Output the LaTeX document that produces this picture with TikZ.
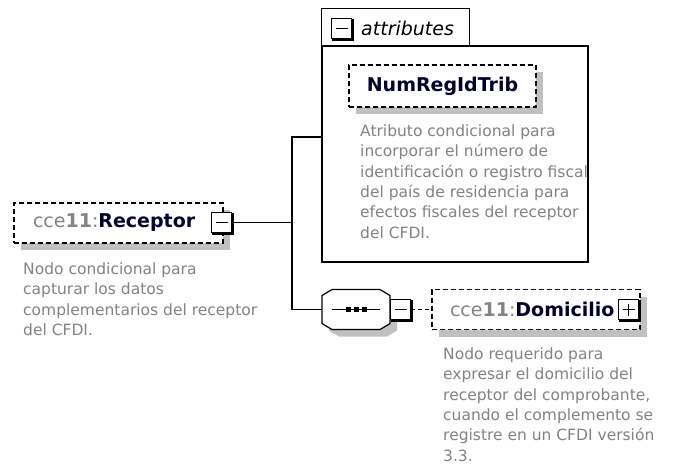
\documentclass[tikz,border=0pt]{standalone}
\usepackage{fontspec}
\setmainfont{DejaVu Sans}
\usetikzlibrary{shadows}
\definecolor{desctext}{RGB}{134,130,126}
\definecolor{nametext}{RGB}{0,0,48}
\definecolor{shadowgray}{RGB}{192,192,192}
\newcommand{\descfont}{\fontsize{15.5}{20.4}\selectfont}
\newcommand{\namefont}{\fontsize{19}{23}\selectfont}
\newcommand{\qname}[1]{{\color{desctext}cce\textbf{11}:}{\color{nametext}\bfseries #1}}
\tikzset{
  conn/.style={line width=1.2pt},
  elembox/.style={draw=black, line width=1.2pt, dash pattern=on 5pt off 3pt, fill=white,
    minimum height=40pt, inner xsep=19pt, align=left, font=\namefont,
    copy shadow={shadow xshift=7pt, shadow yshift=-7pt, draw=none, fill=shadowgray}},
  expbox/.style={draw=black, line width=1.2pt, fill=white, minimum size=20pt, inner sep=0pt,
    copy shadow={shadow xshift=1.5pt, shadow yshift=-1.5pt, draw=black, fill=black}},
  expminus/.style={expbox, path picture={
    \draw[line width=1.2pt] ([xshift=4pt]path picture bounding box.west) -- ([xshift=-4pt]path picture bounding box.east);}},
  expplus/.style={expbox, path picture={
    \draw[line width=1.2pt] ([xshift=4pt]path picture bounding box.west) -- ([xshift=-4pt]path picture bounding box.east);
    \draw[line width=1.2pt] ([yshift=-4pt]path picture bounding box.north) -- ([yshift=4pt]path picture bounding box.south);}},
  desc/.style={anchor=north west, inner sep=0pt, align=left, font=\descfont, text=desctext},
  seqbox/.style={draw=black, line width=1.2pt, fill=white,
    copy shadow={shadow xshift=7pt, shadow yshift=-7pt, draw=none, fill=shadowgray}},
}

\begin{document}
\begin{tikzpicture}[x=1pt, y=-1pt]
  \path[fill=white] (0,0) rectangle (676,471);
  \useasboundingbox (0,0) rectangle (676,471);
  % attributes group
  \node[draw=black, line width=1.2pt, minimum width=266pt, minimum height=216pt] (attrs) at (455,154) {};
  \node[minimum width=147pt, minimum height=37pt] (attrtab) at (395.5,27.5) {};
  \draw[conn] (attrtab.south west) -- (attrtab.north west) -- (attrtab.north east) -- (attrtab.south east);
  \node[expminus] (attrminus) at (341.5,28.5) {};
  \node[anchor=west, inner sep=0pt, font=\namefont\itshape] (attrlabel) at (361,28.5) {attributes};
  \node[elembox, minimum height=42pt, inner xsep=12pt, text width=163pt, align=center] (regid) at (442.5,86) {\textcolor{nametext}{\bfseries NumRegIdTrib}};
  \node[desc] (regiddesc) at (360,124.4) {Atributo condicional para\\incorporar el número de\\identificación o registro fiscal\\del país de residencia para\\efectos fiscales del receptor\\del CFDI.};
  % receptor
  \node[elembox, text width=171pt] (recep) at (118.5,223) {\qname{Receptor}};
  \node[expminus] (recepminus) at (221.5,222.5) {};
  \node[desc] (recepdesc) at (23,262.4) {Nodo condicional para\\capturar los datos\\complementarios del receptor\\del CFDI.};
  % sequence
  \node[minimum width=68pt, minimum height=40pt, inner sep=0pt, outer sep=0pt] (seq) at (356,309.5) {};
  \draw[seqbox] ([xshift=10pt]seq.north west) -- ([xshift=-10pt]seq.north east) -- ([yshift=-6pt]seq.north east)
    -- ([yshift=6pt]seq.south east) -- ([xshift=-10pt]seq.south east) -- ([xshift=10pt]seq.south west)
    -- ([yshift=6pt]seq.south west) -- ([yshift=-6pt]seq.north west) -- cycle;
  \draw[conn] ([xshift=-24pt]seq.center) -- ([xshift=24pt]seq.center);
  \fill ([xshift=-8pt]seq.center) +(-2.5,-2.5) rectangle +(2.5,2.5);
  \fill (seq.center) +(-2.5,-2.5) rectangle +(2.5,2.5);
  \fill ([xshift=8pt]seq.center) +(-2.5,-2.5) rectangle +(2.5,2.5);
  \node[expminus] (seqminus) at (400.5,309.5) {};
  % connectors
  \coordinate (fork) at (292,222.5);
  \coordinate (attrin) at (322,137);
  \draw[conn] (recepminus) -- (fork);
  \draw[conn] (attrin) -| (fork) |- (seq.west);
  % domicilio
  \node[elembox, text width=172pt, inner xsep=18pt] (domic) at (536,309.5) {\qname{Domicilio}};
  \node[expplus] (domicplus) at (628.5,309.5) {};
  \draw[conn, dash pattern=on 4pt off 3pt] (seqminus.east) -- (domic.west);
  \node[desc] (domicdesc) at (443,347.4) {Nodo requerido para\\expresar el domicilio del\\receptor del comprobante,\\cuando el complemento se\\registre en un CFDI versión\\3.3.};
\end{tikzpicture}
\end{document}
